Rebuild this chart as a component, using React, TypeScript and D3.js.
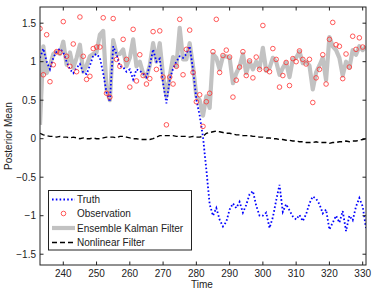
import React from 'react';
import * as d3 from 'd3';

// time steps 233..331
const startTime = 233;

const truth = [
  1.05, 1.17, 1.0, 0.9, 1.05, 1.13, 1.17, 1.12, 1.0, 0.9,
  0.85, 0.92, 0.97, 0.86, 0.84, 0.95, 1.08, 1.1, 1.05, 0.85,
  0.6, 0.48, 1.2, 1.1, 0.94, 0.93, 0.87, 0.9, 0.77, 0.9,
  0.88, 0.85, 0.8, 0.95, 1.16, 1.0, 1.04, 0.72, 0.46, 0.77,
  0.91, 1.0, 1.07, 1.05, 1.1, 1.2, 0.9, 0.51, 0.3, 0.02,
  -0.4, -0.85, -1.0, -0.9, -1.05, -1.14, -1.08, -0.92, -0.84, -0.9,
  -0.82, -0.96, -0.86, -0.72, -0.68, -0.87, -1.0, -1.0, -0.96, -1.16,
  -1.02, -0.8, -0.6, -0.95, -0.85, -0.93, -1.01, -1.05, -0.99, -1.07,
  -0.98, -0.84, -0.75, -0.78, -0.85, -0.97, -0.92, -1.18, -1.09, -1.0,
  -1.09, -0.94, -1.2, -1.0, -1.06, -0.88, -0.77, -0.88, -1.16,
];

const observation = [
  1.43, 0.83, 1.35, 0.74, 0.96, 1.13, 1.12, 1.52, 1.07, 0.94,
  1.23, 0.87, 1.58, 1.07, 0.77, 0.81, 1.17, 1.19, 1.19, 1.57,
  0.59, 0.54, 1.56, 1.03, 0.94, 1.29, 1.03, 0.67, 1.42, 0.75,
  1.09, 0.82, 0.71, 0.78, 1.39, 0.9, 1.4, 0.8, 0.18, 0.8,
  0.71, 0.94, 1.55, 0.83, 1.16, 1.41, 0.86, 0.48, 0.57, 0.16,
  0.48, 0.59, 1.13, 1.55, 0.86, 1.08, 1.15, 1.06, 0.54, 0.76,
  0.93, 1.13, 0.82, 1.01, 0.79, 1.06, 0.9, 1.47, 0.9, 0.87,
  1.17, 1.03, 0.67, 0.82, 0.99, 0.69, 1.04, 1.0, 1.14, 1.03,
  0.97, 1.03, 0.47, 0.79, 0.9, 1.09, 0.71, 1.29, 1.51, 1.22,
  1.2, 0.78, 1.1, 0.93, 1.33, 1.16, 1.31, 1.19,
];

const enkf = [
  0.18, 1.2, 0.85, 0.95, 1.1, 1.13, 1.1, 1.26, 0.96, 1.12,
  0.92, 1.05, 1.22, 0.87, 0.95, 1.07, 1.1, 1.12, 1.35, 1.4,
  0.64, 0.5, 1.28, 1.1, 1.1, 1.16, 0.94, 1.05, 1.29, 0.94,
  1.0, 0.85, 0.8, 0.95, 1.24, 1.0, 1.24, 0.81, 0.55, 0.81,
  1.06, 0.94, 1.44, 1.03, 1.03, 1.24, 0.94, 0.55, 0.5, 0.3,
  0.55, 0.4, 1.1, 1.05, 0.9, 1.07, 1.07, 1.05, 0.72, 0.85,
  0.94, 1.1, 0.85, 1.0, 0.9, 1.0, 0.92, 1.18, 0.88, 0.92,
  1.05, 1.0, 0.83, 0.92, 0.99, 0.8, 1.03, 1.05, 1.13, 0.98,
  1.0, 0.95, 0.64, 0.86, 0.95, 1.05, 0.76, 1.32, 1.2, 1.15,
  1.05, 0.82, 1.0, 0.92, 1.15, 1.09, 1.2, 1.15, 1.2,
];

const nonlinear = [
  0.07, 0.05, 0.04, 0.03, 0.03, 0.02, 0.03, 0.02, 0.02, 0.01,
  0.02, 0.01, 0.0, 0.01, 0.0, 0.0, 0.01, 0.0, 0.0, 0.01,
  0.02, 0.02, 0.02, 0.01, 0.03, 0.03, 0.02, 0.01, 0.0, 0.0,
  -0.01, -0.01, -0.01, -0.01, 0.0, 0.02, 0.04, 0.04, 0.04, 0.04,
  0.04, 0.03, 0.03, 0.03, 0.03, 0.02, 0.03, 0.02, 0.02, 0.03,
  0.07, 0.08, 0.09, 0.1, 0.09, 0.08, 0.07, 0.07, 0.06, 0.05,
  0.05, 0.04, 0.04, 0.04, 0.03, 0.03, 0.02, 0.02, 0.01, 0.01,
  0.0, 0.0, -0.01, -0.01, -0.02, -0.02, -0.03, -0.03, -0.04, -0.04,
  -0.05, -0.05, -0.05, -0.04, -0.05, -0.05, -0.05, -0.06, -0.05, -0.05,
  -0.04, -0.04, -0.03, -0.04, -0.03, -0.03, -0.02, -0.01, 0.0,
];

const xTicks = [240, 250, 260, 270, 280, 290, 300, 310, 320, 330];
const yTicks = [-1.5, -1, -0.5, 0, 0.5, 1, 1.5];
const legendLabels = ['Truth', 'Observation', 'Ensemble Kalman Filter', 'Nonlinear Filter'];

const W = 374;
const H = 291;
const left = 40;
const right = 366;
const top = 7;
const bottom = 265;
const font = 'Liberation Sans, Arial, sans-serif';
const fs = 10;

const fmt = (v: number) => (v < 0 ? '\u2212' + Math.abs(v) : String(v));

export default function App() {
  const x = d3.scaleLinear().domain([233, 331]).range([left, right]);
  const y = d3.scaleLinear().domain([-1.64, 1.71]).range([bottom, top]);
  const t = (i: number) => startTime + i;

  const line = d3
    .line<number>()
    .x((_, i) => x(t(i)))
    .y((d) => y(d));

  const legendRows = [199.5, 213.5, 228, 242.5];
  const sx0 = 52;
  const sx1 = 75;

  return (
    <svg
      width={W}
      height={H}
      style={{ position: 'absolute', left: 0, top: 0, background: '#fff' }}
      fontFamily={font}
    >
      <defs>
        <clipPath id="plot">
          <rect x={left} y={top} width={right - left} height={bottom - top} />
        </clipPath>
      </defs>
      <rect x={0} y={0} width={W} height={H} fill="#fff" />
      <g clipPath="url(#plot)">
        <path d={line(enkf) || ''} fill="none" stroke="#c2c2c2" strokeWidth={4.2} strokeLinejoin="round" />
        <path d={line(nonlinear) || ''} fill="none" stroke="#000" strokeWidth={1.4} strokeDasharray="5,3" />
        <path d={line(truth) || ''} fill="none" stroke="#0000ff" strokeWidth={1.8} strokeDasharray="1.6,2.2" />
        {observation.map((d, i) => (
          <circle key={i} cx={x(t(i))} cy={y(d)} r={2.3} fill="none" stroke="#ff3030" strokeWidth={0.8} />
        ))}
      </g>

      {/* axes box and ticks */}
      <rect x={left} y={top} width={right - left} height={bottom - top} fill="none" stroke="#222" strokeWidth={1} />
      {xTicks.map((v) => (
        <g key={v}>
          <line x1={x(v)} x2={x(v)} y1={bottom} y2={bottom - 3.5} stroke="#222" />
          <line x1={x(v)} x2={x(v)} y1={top} y2={top + 3.5} stroke="#222" />
          <text x={x(v)} y={277} fontSize={fs} textAnchor="middle" fill="#222">
            {v}
          </text>
        </g>
      ))}
      {yTicks.map((v) => (
        <g key={v}>
          <line x1={left} x2={left + 3.5} y1={y(v)} y2={y(v)} stroke="#222" />
          <line x1={right} x2={right - 3.5} y1={y(v)} y2={y(v)} stroke="#222" />
          <text x={left - 4} y={y(v) + 3.5} fontSize={fs} textAnchor="end" fill="#222">
            {fmt(v)}
          </text>
        </g>
      ))}
      <text x={202} y={288} fontSize={fs} textAnchor="middle" fill="#222">
        Time
      </text>
      <text
        transform={`translate(12, ${(top + bottom) / 2}) rotate(-90)`}
        fontSize={fs}
        textAnchor="middle"
        fill="#222"
      >
        Posterior Mean
      </text>

      {/* legend */}
      <rect x={48.5} y={190.5} width={143} height={59.5} fill="#fff" stroke="#222" strokeWidth={1} />
      <line x1={sx0} x2={sx1} y1={legendRows[0]} y2={legendRows[0]} stroke="#0000ff" strokeWidth={1.8} strokeDasharray="1.6,2.2" />
      <circle cx={(sx0 + sx1) / 2} cy={legendRows[1]} r={2.3} fill="none" stroke="#ff3030" strokeWidth={0.8} />
      <line x1={sx0} x2={sx1} y1={legendRows[2]} y2={legendRows[2]} stroke="#c2c2c2" strokeWidth={4.2} />
      <line x1={sx0} x2={sx1} y1={legendRows[3]} y2={legendRows[3]} stroke="#000" strokeWidth={1.4} strokeDasharray="5,3" />
      {legendLabels.map((label, i) => (
        <text key={label} x={77} y={legendRows[i] + 3.5} fontSize={fs} fill="#222">
          {label}
        </text>
      ))}
    </svg>
  );
}
